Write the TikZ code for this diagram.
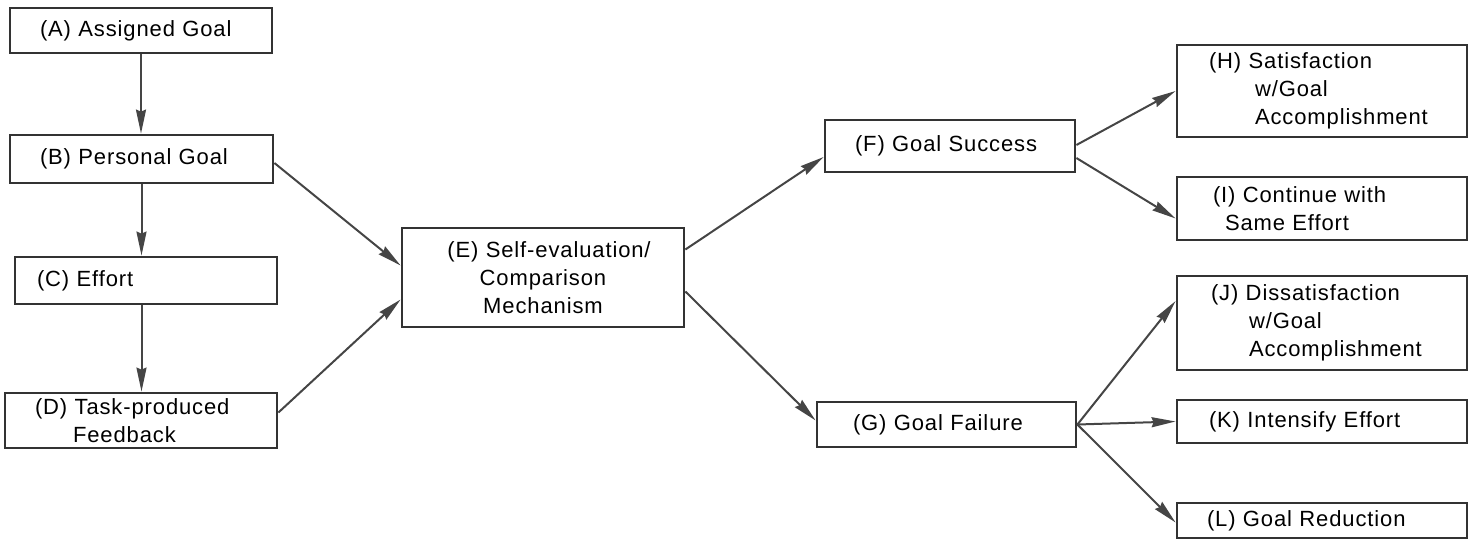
\documentclass[tikz,border=0pt]{standalone}
\usepackage{fontspec}
\setmainfont{Liberation Sans}[LetterSpace=4]
\usepackage{tikz}
\usetikzlibrary{arrows.meta,positioning}
\definecolor{Ink}{HTML}{333333}
\definecolor{Wire}{HTML}{454545}

\begin{document}
\begin{tikzpicture}[x=0.5pt,y=-0.5pt,
    box/.style n args={3}{draw=Ink,line width=1.4pt,inner xsep=0pt,inner ysep=0pt,
      minimum width=#1,minimum height=#2,text width=#1-#3,align=left,
      font=\fontsize{11pt}{14pt}\selectfont},
    link/.style={draw=Wire,line width=1pt,-{Stealth[length=12pt,width=5pt,inset=1pt]}}]
  \useasboundingbox (0,0) rectangle (1469,547);
  % left column
  \node[box={131pt}{22.5pt}{30pt}] (A) at (141,30.5) {(A) Assigned Goal};
  \node[box={131.5pt}{24pt}{30pt}] (B) at (141.5,159) {(B) Personal Goal};
  \node[box={131pt}{23.5pt}{22pt}] (C) at (146,280.5) {(C) Effort};
  \node[box={136pt}{27.5pt}{30pt}] (D) at (141,420.5) {(D) Task-produced\\\hspace*{19pt}Feedback};
  % comparison
  \node[box={141pt}{49.5pt}{16pt},align=center] (E) at (543,277.5)
    {\hspace*{6pt}(E) Self-evaluation/\\Comparison\\Mechanism};
  \node[box={125pt}{26pt}{30pt}] (F) at (950,146) {(F) Goal Success};
  \node[box={129.5pt}{22.5pt}{36pt}] (G) at (946.5,424.5) {(G) Goal Failure};
  % outcomes
  \node[box={145pt}{46pt}{32pt}] (H) at (1322,91)
    {(H) Satisfaction\\\hspace*{23pt}w/Goal\\\hspace*{23pt}Accomplishment};
  \node[box={145pt}{31.5pt}{36pt}] (I) at (1322,208.5)
    {(I) Continue with\\\hspace*{6pt}Same Effort};
  \node[box={145pt}{47pt}{34pt}] (J) at (1322,323)
    {(J) Dissatisfaction\\\hspace*{19pt}w/Goal\\\hspace*{19pt}Accomplishment};
  \node[box={145pt}{21.5pt}{32pt}] (K) at (1322,421.5) {(K) Intensify Effort};
  \node[box={145pt}{17.5pt}{30pt}] (L) at (1322,520.5) {(L) Goal Reduction};

  \draw[link] (A.south) -- (A.south |- B.north);
  \draw[link] (B.south) -- (B.south |- C.north);
  \draw[link] (B.south |- C.south) -- (B.south |- D.north);
  \draw[link] ([yshift=-2pt]B.east) -- ([yshift=6pt]E.west);
  \draw[link] ([yshift=4pt]D.east) -- ([yshift=-11pt]E.west);
  \draw[link] ([yshift=14pt]E.east) -- ([yshift=-5.5pt]F.west);
  \draw[link] ([yshift=-7pt]E.east) -- ([yshift=2pt]G.west);
  \draw[link] ([yshift=0.5pt]F.east) -- (H.west);
  \draw[link] ([yshift=-6pt]F.east) -- ([yshift=-5pt]I.west);
  \foreach \out/\dy in {J/11pt,K/0pt,L/-1pt}
    \draw[link] (G.east) -- ([yshift=\dy]\out.west);
\end{tikzpicture}
\end{document}
